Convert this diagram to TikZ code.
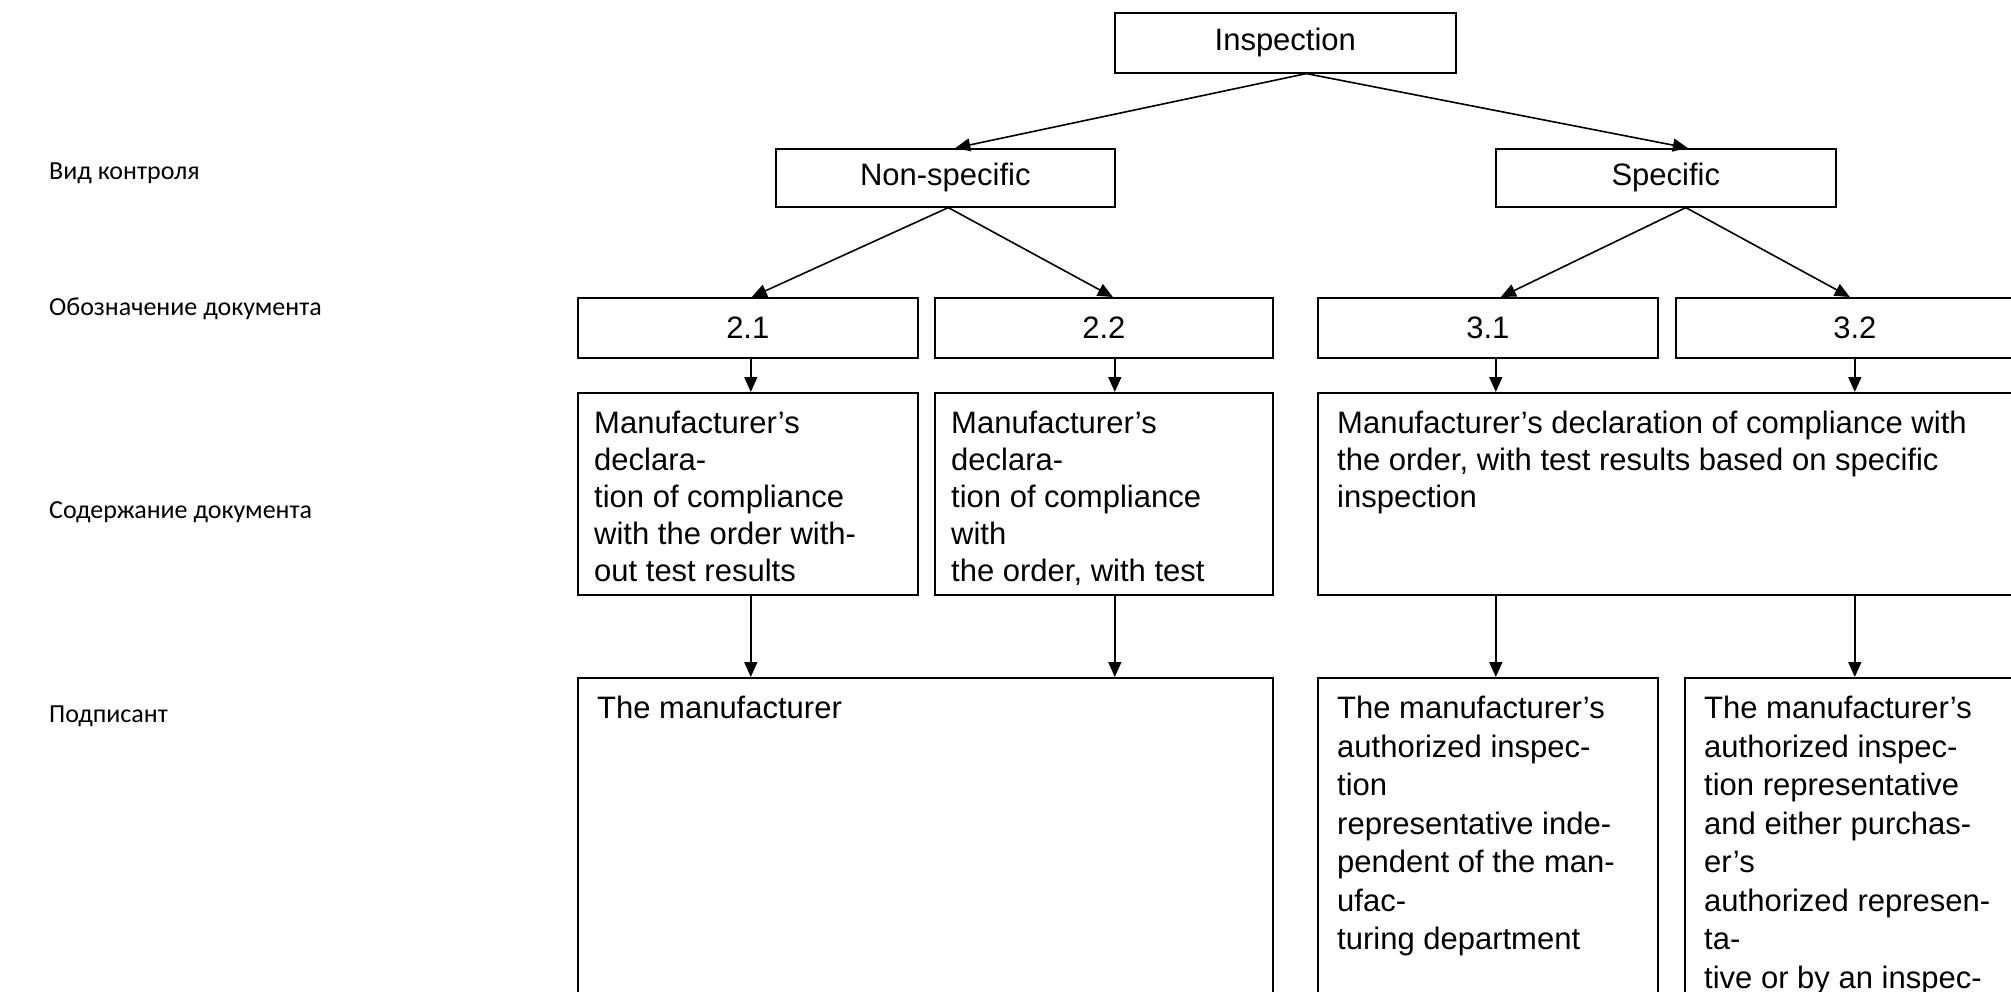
\documentclass[tikz,border=0pt]{standalone}
\usepackage{fontspec}
\setmainfont{Liberation Sans}
\newfontfamily\lblfont{Carlito}
\usetikzlibrary{arrows.meta}
\tikzset{
  box/.style={draw=black, line width=1.6pt, inner sep=0pt, anchor=north west,
    font=\fontsize{31}{37.5}\selectfont},
  txt/.style={inner sep=0pt, anchor=north west, align=left,
    font=\fontsize{31}{37}\selectfont},
  sigtxt/.style={txt, font=\fontsize{31}{38.5}\selectfont},
  lbl/.style={inner sep=0pt, anchor=west, font=\lblfont\fontsize{26}{30}\selectfont},
  arr/.style={line width=1.6pt, -{Triangle[length=15pt,width=13pt]}}
}
\begin{document}
\begin{tikzpicture}[x=1pt,y=-1pt]
\useasboundingbox (0,0) rectangle (2011,991);
\clip (0,0) rectangle (2011,991);
\fill[white] (0,0) rectangle (2011,991);
% left labels
\node[lbl] (l1) at (49,173) {Вид контроля};
\node[lbl] (l2) at (49,309) {Обозначение документа};
\node[lbl] (l3) at (49,512) {Содержание документа};
\node[lbl] (l4) at (49,716) {Подписант};
% boxes
\node[box, minimum width=341pt, minimum height=60pt] (ins) at (1114,12) {Inspection};
\node[box, minimum width=339pt, minimum height=58pt] (ns) at (775,148) {Non-specific};
\node[box, minimum width=340pt, minimum height=58pt] (sp) at (1495,148) {Specific};
\node[box, minimum width=340pt, minimum height=60pt] (d21) at (577,297) {2.1};
\node[box, minimum width=338pt, minimum height=60pt] (d22) at (934,297) {2.2};
\node[box, minimum width=340pt, minimum height=60pt] (d31) at (1317,297) {3.1};
\node[box, minimum width=358pt, minimum height=60pt] (d32) at (1675,297) {3.2};
\node[box, minimum width=340pt, minimum height=202pt] (c21) at (577,392) {};
\node[box, minimum width=338pt, minimum height=202pt] (c22) at (934,392) {};
\node[box, minimum width=740pt, minimum height=202pt] (c3) at (1317,392) {};
\node[box, minimum width=695pt, minimum height=340pt] (s2) at (577,677) {};
\node[box, minimum width=340pt, minimum height=340pt] (s31) at (1317,677) {};
\node[box, minimum width=360pt, minimum height=340pt] (s32) at (1684,677) {};
% texts
\node[txt] (c21t) at ([xshift=17pt,yshift=-19pt]c21.north west)
  {Manufacturer’s\\declara-\\tion of compliance\\with the order with-\\out test results};
\node[txt] (c22t) at ([xshift=17pt,yshift=-19pt]c22.north west)
  {Manufacturer’s\\declara-\\tion of compliance\\with\\the order, with test};
\node[txt] (c3t) at ([xshift=20pt,yshift=-19pt]c3.north west)
  {Manufacturer’s declaration of compliance with\\the order, with test results based on specific\\inspection};
\node[sigtxt] (s2t) at ([xshift=20pt,yshift=-19pt]s2.north west) {The manufacturer};
\node[sigtxt] (s31t) at ([xshift=20pt,yshift=-19pt]s31.north west)
  {The manufacturer’s\\authorized inspec-\\tion\\representative inde-\\pendent of the man-\\ufac-\\turing department};
\node[sigtxt] (s32t) at ([xshift=20pt,yshift=-19pt]s32.north west)
  {The manufacturer’s\\authorized inspec-\\tion representative\\and either purchas-\\er’s\\authorized represen-\\ta-\\tive or by an inspec-};
% connectors
\coordinate (ia) at ([xshift=21pt]ins.south);
\draw[arr] (ia) -- ([xshift=10pt]ns.north);
\draw[arr] (ia) -- ([xshift=22pt]sp.north);
\coordinate (na) at ([xshift=3pt]ns.south);
\draw[arr] (na) -- ([xshift=4pt]d21.north);
\draw[arr] (na) -- ([xshift=9pt]d22.north);
\coordinate (sa) at ([xshift=20pt]sp.south);
\draw[arr] (sa) -- ([xshift=13pt]d31.north);
\draw[arr] (sa) -- ([xshift=-5pt]d32.north);
\draw[arr] ([xshift=3pt]d21.south) -- ([xshift=3pt]c21.north);
\draw[arr] ([xshift=11pt]d22.south) -- ([xshift=11pt]c22.north);
\draw[arr] ([xshift=8pt]d31.south) -- ([xshift=8pt]d31.south |- c3.north);
\draw[arr] (d32.south) -- (d32.south |- c3.north);
\draw[arr] ([xshift=3pt]c21.south) -- ([xshift=3pt]c21.south |- s2.north);
\draw[arr] ([xshift=11pt]c22.south) -- ([xshift=11pt]c22.south |- s2.north);
\draw[arr] ([xshift=8pt]d31.south |- c3.south) -- ([xshift=8pt]s31.north);
\draw[arr] (d32.south |- c3.south) -- (d32.south |- s32.north);
\end{tikzpicture}
\end{document}
